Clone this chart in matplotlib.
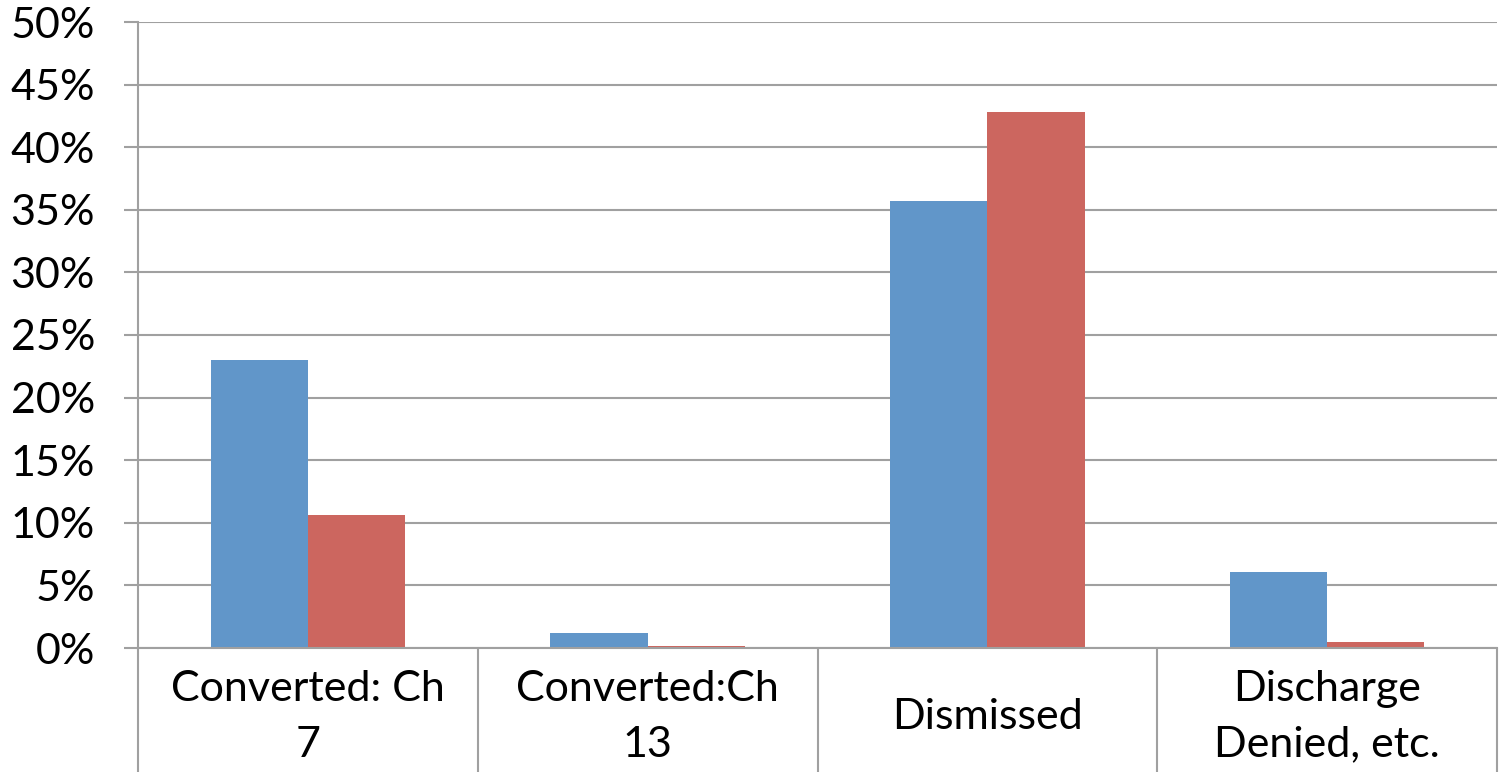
import numpy as np
from matplotlib import pyplot as plt
from matplotlib.ticker import FuncFormatter

# Dati
categorie = ["Converted: Ch\n7", "Converted:Ch\n13", "Dismissed", "Discharge\nDenied, etc."]
serie_blu = [23.0, 1.2, 35.7, 6.1]
serie_rossa = [10.6, 0.15, 42.8, 0.5]
tick_y = [0, 5, 10, 15, 20, 25, 30, 35, 40, 45, 50]

BLU = "#6196C9"
ROSSO = "#CC665F"
GRIGIO = "#A0A0A0"

plt.rcParams["font.family"] = ["Lato", "DejaVu Sans"]

fig = plt.figure(figsize=(15.08, 7.74), dpi=100)
ax = fig.add_axes([138 / 1508, 126 / 774, (1497 - 138) / 1508, (648 - 22) / 774])

x = np.arange(len(categorie))
larghezza = 0.286
ax.bar(x - larghezza / 2, serie_blu, width=larghezza, color=BLU, zorder=3)
ax.bar(x + larghezza / 2, serie_rossa, width=larghezza, color=ROSSO, zorder=3)

ax.set_xlim(-0.5, len(categorie) - 0.5)
ax.set_ylim(0, 50)

# griglia orizzontale
ax.set_yticks(tick_y)
ax.yaxis.set_major_formatter(FuncFormatter(lambda v, p: f"{int(v)}%"))
ax.grid(axis="y", color=GRIGIO, linewidth=1.5, zorder=0)
ax.tick_params(axis="y", direction="out", length=10, width=1.5, color=GRIGIO,
               labelsize=31, pad=21)

# separatori delle categorie
ax.set_xticks(np.arange(len(categorie) + 1) - 0.5)
ax.set_xticklabels([])
ax.tick_params(axis="x", direction="out", length=89, width=1.5, color=GRIGIO)

for i, nome in enumerate(categorie):
    ax.text(i, -69 / 626, nome, transform=ax.get_xaxis_transform(),
            ha="center", va="center", fontsize=31, linespacing=1.55)

for lato in ["top", "right"]:
    ax.spines[lato].set_visible(False)
for lato in ["left", "bottom"]:
    ax.spines[lato].set_color(GRIGIO)
    ax.spines[lato].set_linewidth(1.5)
ax.spines["bottom"].set_zorder(4)

fig.savefig("out.png", dpi=100)
